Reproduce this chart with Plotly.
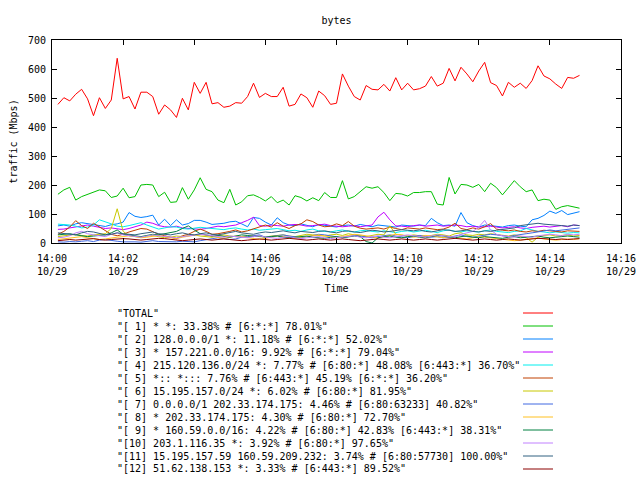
import pandas as pd
import plotly.graph_objects as go

# ---------------- data ----------------
start_time = "2013-10-29 14:00:10"
step_seconds = 10

series_names = [
    '"TOTAL"',
    '"[ 1] * *: 33.38% # [6:*:*] 78.01%"',
    '"[ 2] 128.0.0.0/1 *: 11.18% # [6:*:*] 52.02%"',
    '"[ 3] * 157.221.0.0/16: 9.92% # [6:*:*] 79.04%"',
    '"[ 4] 215.120.136.0/24 *: 7.77% # [6:80:*] 48.08% [6:443:*] 36.70%"',
    '"[ 5] *:: *::: 7.76% # [6:443:*] 45.19% [6:*:*] 36.20%"',
    '"[ 6] 15.195.157.0/24 *: 6.02% # [6:80:*] 81.95%"',
    '"[ 7] 0.0.0.0/1 202.33.174.175: 4.46% # [6:80:63233] 40.82%"',
    '"[ 8] * 202.33.174.175: 4.30% # [6:80:*] 72.70%"',
    '"[ 9] * 160.59.0.0/16: 4.22% # [6:80:*] 42.83% [6:443:*] 38.31%"',
    '"[10] 203.1.116.35 *: 3.92% # [6:80:*] 97.65%"',
    '"[11] 15.195.157.59 160.59.209.232: 3.74% # [6:80:57730] 100.00%"',
    '"[12] 51.62.138.153 *: 3.33% # [6:443:*] 89.52%"',
]

total = [478, 501, 490, 513, 530, 497, 439, 501, 464, 493, 637, 497, 505, 462, 520,
         520, 505, 444, 476, 459, 433, 499, 459, 554, 516, 554, 480, 484, 468, 472,
         484, 482, 505, 551, 502, 516, 505, 505, 537, 472, 478, 514, 501, 468, 524,
         508, 478, 482, 583, 541, 505, 493, 543, 530, 528, 547, 524, 570, 528, 551,
         528, 532, 541, 574, 541, 551, 602, 559, 606, 583, 556, 593, 623, 553, 543,
         507, 554, 537, 551, 533, 560, 611, 576, 566, 548, 533, 571, 568, 578]

s1 = [168, 183, 192, 148, 160, 168, 175, 183, 180, 157, 162, 189, 156, 160, 200,
      202, 200, 160, 175, 140, 142, 191, 151, 183, 225, 185, 177, 148, 139, 185,
      131, 142, 163, 166, 157, 145, 160, 139, 148, 131, 163, 157, 145, 156, 146,
      174, 157, 157, 215, 152, 160, 177, 194, 189, 194, 174, 146, 171, 169, 162,
      174, 174, 177, 177, 134, 131, 226, 169, 202, 200, 192, 202, 177, 206, 191,
      166, 189, 215, 194, 177, 183, 146, 151, 148, 116, 125, 129, 125, 120]

s2 = [59, 62, 58, 66, 70, 67, 62, 60, 57, 63, 66, 72,
      105, 92, 88, 91, 96, 62, 82, 60, 80, 62, 67, 78,
      78, 72, 64, 66, 68, 73, 75, 66, 56, 88, 85, 72,
      62, 87, 70, 62, 60, 66, 62, 56, 64, 60, 58, 55,
      60, 62, 58, 64, 60, 56, 62, 60, 58, 55, 62, 60,
      58, 62, 60, 85, 70, 60, 62, 58, 105, 70, 60, 55,
      62, 60, 58, 55, 60, 62, 58, 56, 80, 85, 95, 110,
      102, 112, 98, 104, 108]

s3 = [47, 48, 52, 56, 60, 62, 58, 55, 50, 52, 48, 46,
      50, 55, 62, 72, 68, 60, 56, 55, 58, 52, 50, 47,
      47, 50, 55, 58, 56, 59, 62, 70, 78, 89, 60, 58,
      62, 60, 58, 62, 64, 62, 58, 60, 62, 65, 60, 58,
      56, 58, 60, 56, 58, 62, 90, 106, 80, 59, 58, 56,
      60, 62, 58, 60, 62, 58, 60, 62, 60, 56, 58, 55,
      56, 58, 55, 52, 54, 56, 52, 50, 54, 56, 58, 55,
      58, 60, 56, 62, 60]

s4 = [65, 64, 62, 58, 52, 55, 62, 80, 74, 66, 58, 56,
      60, 65, 70, 62, 55, 48, 52, 56, 55, 50, 48, 52,
      54, 52, 50, 48, 46, 50, 52, 48, 45, 48, 44, 46,
      48, 50, 46, 42, 44, 40, 45, 48, 42, 40, 38, 42,
      45, 40, 38, 42, 44, 40, 38, 42, 40, 36, 40, 42,
      38, 40, 44, 40, 36, 42, 45, 40, 38, 42, 40, 38,
      42, 45, 40, 38, 36, 40, 42, 50, 45, 40, 38, 35,
      38, 36, 34, 36, 35]

s5 = [30, 40, 55, 77, 60, 50, 68, 55, 45, 30, 25, 30,
      38, 45, 50, 48, 40, 30, 25, 20, 15, 25, 30, 40,
      48, 40, 30, 32, 35, 40, 45, 38, 42, 48, 55, 62,
      55, 70, 58, 50, 60, 66, 80, 74, 62, 56, 58, 66,
      60, 74, 58, 51, 48, 50, 52, 48, 55, 50, 46, 52,
      50, 48, 52, 50, 46, 48, 55, 68, 50, 46, 52, 48,
      56, 67, 48, 44, 42, 45, 40, 38, 42, 40, 44, 42,
      40, 38, 42, 40, 40]

s6 = [22, 25, 28, 30, 26, 24, 28, 30, 32, 50, 118, 40,
      25, 22, 20, 24, 26, 22, 18, 20, 24, 22, 26, 28,
      24, 22, 20, 25, 28, 24, 22, 20, 24, 26, 22, 20,
      24, 26, 28, 24, 22, 26, 30, 28, 26, 24, 28, 30,
      26, 32, 28, 24, 22, 26, 30, 28, 59, 30, 26, 24,
      28, 24, 22, 26, 30, 28, 24, 32, 35, 28, 26, 30,
      28, 32, 30, 26, 24, 28, 22, 18, 3, 20, 26, 28,
      24, 26, 28, 24, 26]

s7 = [4, 3, 5, 4, 6, 8, 5, 10, 12, 8, 6, 4,
      5, 4, 3, 6, 8, 5, 4, 3, 4, 6, 5, 4,
      8, 12, 15, 18, 15, 12, 14, 20, 22, 25, 28, 20,
      22, 25, 28, 24, 20, 18, 22, 26, 30, 28, 24, 20,
      18, 22, 26, 24, 20, 18, 22, 25, 28, 24, 20, 18,
      22, 26, 24, 20, 22, 18, 20, 24, 28, 22, 20, 24,
      26, 30, 28, 24, 22, 26, 28, 32, 35, 38, 40, 45,
      42, 45, 48, 50, 52]

s8 = [12, 15, 18, 20, 22, 18, 15, 12, 14, 18, 20, 22,
      25, 22, 18, 20, 24, 26, 22, 18, 15, 20, 24, 28,
      30, 26, 22, 18, 16, 20, 24, 22, 18, 15, 12, 16,
      20, 24, 22, 18, 16, 20, 22, 26, 28, 24, 20, 18,
      22, 26, 30, 28, 24, 20, 18, 22, 26, 30, 28, 24,
      20, 22, 26, 24, 20, 18, 22, 20, 16, 14, 18, 22,
      20, 18, 14, 12, 10, 8, 10, 12, 15, 18, 14, 12,
      10, 12, 14, 12, 15]

s9 = [28, 30, 32, 28, 25, 22, 24, 26, 28, 35, 45, 30,
      28, 25, 22, 26, 30, 28, 32, 35, 40, 50, 59, 45,
      32, 28, 24, 26, 22, 20, 24, 28, 26, 22, 24, 20,
      22, 24, 20, 18, 20, 22, 24, 20, 18, 16, 20, 22,
      18, 20, 24, 22, 5, 0, 18, 22, 24, 20, 18, 22,
      24, 20, 18, 22, 26, 24, 20, 18, 22, 24, 20, 18,
      22, 20, 18, 16, 20, 22, 18, 20, 22, 24, 20, 18,
      20, 22, 24, 22, 20]

s10 = [18, 20, 25, 35, 40, 32, 28, 25, 22, 30, 35, 28,
       25, 22, 20, 24, 28, 25, 22, 20, 18, 22, 25, 28,
       30, 28, 25, 22, 20, 24, 22, 20, 18, 22, 25, 20,
       18, 16, 20, 22, 18, 15, 18, 20, 22, 18, 15, 18,
       20, 22, 25, 20, 18, 22, 25, 20, 18, 22, 25, 28,
       25, 22, 20, 24, 28, 25, 22, 20, 30, 35, 40, 55,
       78, 45, 30, 25, 22, 20, 24, 22, 20, 25, 28, 30,
       28, 25, 30, 28, 30]

s11 = [35, 32, 30, 28, 35, 40, 38, 32, 28, 30, 35, 32,
       30, 28, 32, 35, 38, 32, 30, 28, 32, 35, 30, 28,
       32, 35, 30, 28, 32, 36, 40, 35, 32, 30, 35, 38,
       36, 40, 42, 38, 35, 40, 38, 36, 40, 42, 38, 35,
       40, 42, 38, 36, 40, 44, 42, 38, 40, 42, 46, 44,
       42, 45, 40, 38, 42, 46, 44, 40, 42, 45, 40, 38,
       42, 40, 44, 46, 48, 52, 60, 62, 66, 68, 65, 64,
       62, 60, 58, 62, 60]

s12 = [8, 10, 12, 10, 12, 14, 15, 12, 10, 12, 14, 15,
       14, 12, 10, 12, 14, 16, 15, 12, 10, 8, 10, 12,
       14, 12, 10, 12, 14, 12, 10, 8, 10, 12, 14, 12,
       10, 12, 14, 16, 14, 12, 10, 12, 14, 12, 10, 12,
       14, 12, 10, 8, 10, 12, 14, 12, 10, 12, 14, 12,
       10, 12, 14, 12, 10, 12, 14, 16, 14, 12, 10, 12,
       14, 12, 10, 12, 14, 12, 10, 12, 14, 16, 15, 14,
       12, 14, 12, 14, 15]

all_series = [total, s1, s2, s3, s4, s5, s6, s7, s8, s9, s10, s11, s12]

x_ticks_dtick_min = 2
x_range = ["2013-10-29 14:00:00", "2013-10-29 14:16:00"]
y_range = [0, 700]

# ---------------- style ----------------
colors = ["#ff0000", "#00c000", "#0080ff", "#c000ff", "#00eeee", "#c04000",
          "#c8c800", "#4169e1", "#ffc020", "#008040", "#c080ff", "#306080",
          "#8b0000"]
FONT = "DejaVu Sans Mono"

W, H = 640, 480
L, R, T, B = 52, 621, 40, 243   # plot area in pixels


def px_x(p):
    return (p - L) / (R - L)


def px_y(p):
    return (B - p) / (B - T)


fig = go.Figure()
longest = max(len(s) for s in all_series)
times = pd.date_range(start_time, periods=longest, freq=f"{step_seconds}s")

for name, vals, col in zip(series_names, all_series, colors):
    fig.add_trace(go.Scatter(
        x=times[:len(vals)], y=vals, mode="lines", name=name,
        line=dict(color=col, width=1), showlegend=False,
        hoverinfo="skip"))

# legend below the plot: text left, sample line right
row0, row_step = 313, 13
for k, (name, col) in enumerate(zip(series_names, colors)):
    py = row0 + k * row_step
    fig.add_annotation(xref="paper", yref="paper", x=px_x(115), y=px_y(py),
                       text=name, showarrow=False, xanchor="left",
                       yanchor="middle", font=dict(family=FONT, size=10,
                                                   color="black"))
    fig.add_shape(type="line", xref="paper", yref="paper",
                  x0=px_x(523), x1=px_x(553), y0=px_y(py), y1=px_y(py),
                  line=dict(color=col, width=1))

axis_common = dict(showline=True, linecolor="black", linewidth=1,
                   mirror="allticks", ticks="inside", ticklen=5,
                   tickcolor="black", showgrid=False, zeroline=False,
                   automargin=False,
                   tickfont=dict(family=FONT, size=10, color="black"))

fig.update_layout(
    width=W, height=H,
    margin=dict(l=L, r=W - R, t=T, b=H - B),
    paper_bgcolor="white", plot_bgcolor="white",
    font=dict(family=FONT, size=10, color="black"),
    title=dict(text="bytes", x=(L + R) / 2 / W, xanchor="center",
               y=1 - 20 / H, yanchor="middle", yref="container",
               font=dict(family=FONT, size=10)),
    xaxis=dict(type="date", range=x_range, dtick=x_ticks_dtick_min * 60000,
               tickformat="%H:%M<br>%m/%d",
               ticklabelstandoff=6,
               title=dict(text="Time", standoff=8,
                          font=dict(family=FONT, size=10)),
               **axis_common),
    yaxis=dict(range=y_range, dtick=100,
               title=dict(text="traffic (Mbps)", standoff=8,
                          font=dict(family=FONT, size=10)),
               ticklabelstandoff=3,
               **axis_common),
)

fig.write_html("out.html", config={"displayModeBar": False, "staticPlot": True})

# remove the browser's default page margin so the 640x480 figure sits at (0,0)
with open("out.html", "r", encoding="utf-8") as f:
    html = f.read()
html = html.replace("<head>", "<head><style>html,body{margin:0;padding:0;overflow:hidden}</style>", 1)
with open("out.html", "w", encoding="utf-8") as f:
    f.write(html)
